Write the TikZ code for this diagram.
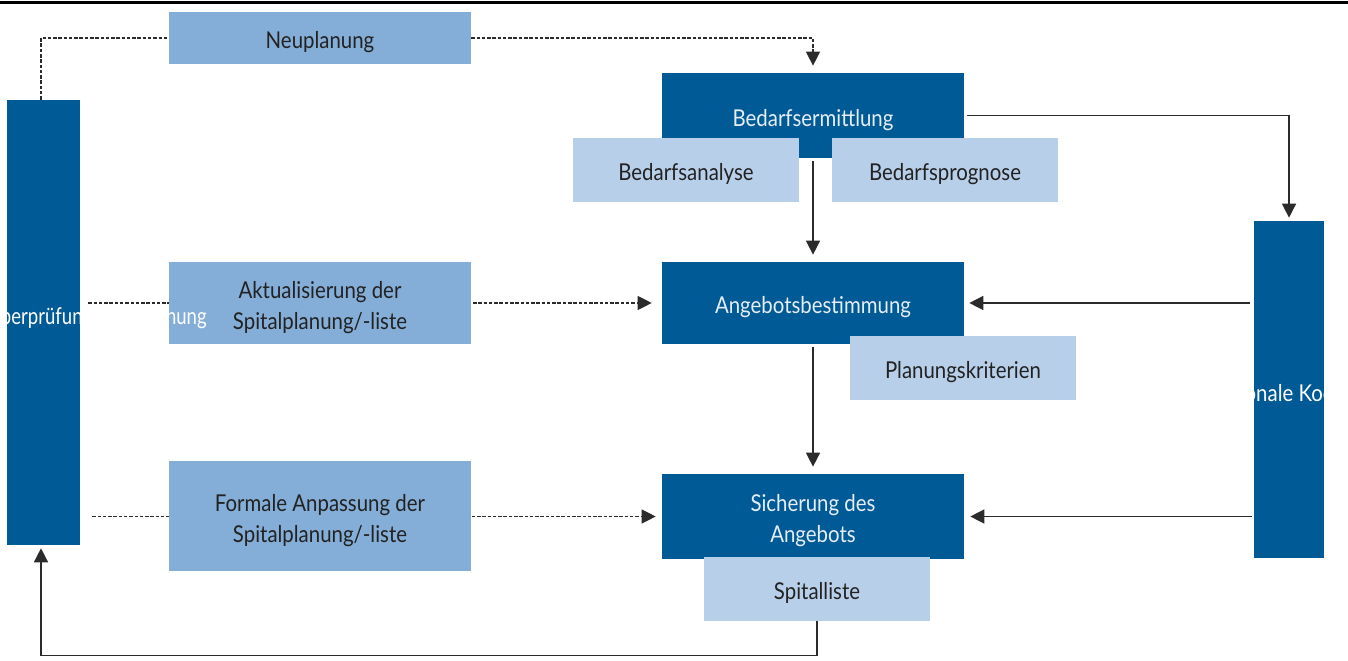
\documentclass[tikz,border=0pt]{standalone}
\usepackage{fontspec}
\setmainfont{Lato}[FakeStretch=0.88]
\newfontfamily\barfont{Lato}[FakeStretch=0.8]
\usepackage{tikz}
\usetikzlibrary{arrows.meta}
\definecolor{dblue}{HTML}{005A96}
\definecolor{mblue}{HTML}{84AED8}
\definecolor{lblue}{HTML}{B8CFEA}
\definecolor{txtdark}{HTML}{222222}
\definecolor{txtlight}{HTML}{E6EEF7}
\definecolor{linegrey}{HTML}{2B2B2B}
\newcommand{\boxfont}{\fontsize{13.2}{17.6}\selectfont}
\tikzset{
  dbox/.style={rectangle, fill=dblue, text=txtlight, inner sep=0pt, minimum width=6.04cm, align=center, font=\boxfont, text height=12.5pt, text depth=0pt},
  mbox/.style={rectangle, fill=mblue, text=txtdark, inner sep=0pt, minimum width=6.04cm, align=center, font=\boxfont, text height=12.5pt, text depth=0pt},
  lbox/.style={rectangle, fill=lblue, text=txtdark, inner sep=0pt, minimum width=4.52cm, minimum height=1.28cm, align=center, font=\boxfont, text height=12.5pt, text depth=0pt},
  twoline/.style={text height=29.8pt, text depth=0pt},
  bar/.style={rectangle, fill=dblue, inner sep=0pt},
  bartext/.style={text=white, inner sep=0pt, font=\boxfont},
  arr/.style={draw=linegrey, line width=0.8pt, -{Triangle[length=0.28cm, width=0.28cm]}},
  dline/.style={draw=linegrey, line width=0.7pt, dash pattern=on 2pt off 1pt}
}
\begin{document}
\begin{tikzpicture}[x=0.02cm, y=-0.02cm]
\useasboundingbox (0,0) rectangle (1348,661);
\draw[line width=0.06cm] (0,3) -- (1348,3);

\node[bar, minimum width=1.46cm, minimum height=8.9cm](L) at (43.5,322.5) {};
\node[bar, minimum width=1.4cm, minimum height=6.74cm](R) at (1289,389.5) {};

\node[dbox, minimum height=1.7cm](B1) at (813,115.5) {Bedarfsermittlung};
\node[dbox, minimum height=1.64cm](A1) at (813,303) {Angebotsbestimmung};
\node[dbox, twoline, minimum height=1.7cm](S1) at (813,516.5) {Sicherung des\\Angebots};

\draw[dline, -{Triangle[length=0.28cm, width=0.28cm]}, shorten <=0.16cm, shorten >=0.2cm] (L.east |- A1.west) -- (A1.west);
\draw[dline, -{Triangle[length=0.28cm, width=0.28cm]}, shorten <=0.24cm, shorten >=0.12cm] (L.east |- S1.west) -- (S1.west);

\node[mbox, minimum height=1.04cm](N1) at (320,38) {Neuplanung};
\node[mbox, twoline, minimum height=1.64cm](M1) at (320,303) {Aktualisierung der\\Spitalplanung/-liste};
\node[mbox, twoline, minimum height=2.2cm](M2) at (320,516) {Formale Anpassung der\\Spitalplanung/-liste};

\node[lbox](B2) at (686,170) {Bedarfsanalyse};
\node[lbox](B3) at (945,170) {Bedarfsprognose};
\node[lbox](A2) at (963,368) {Planungskriterien};
\node[lbox](S2) at (817,589) {Spitalliste};

\draw[dline]([xshift=-0.05cm]L.north) |- (N1.west);
\draw[dline, -{Triangle[length=0.28cm, width=0.28cm]}, shorten >=0.14cm](N1.east) -| (B1.north);
\draw[arr, shorten <=0.06cm, shorten >=0.14cm](B1.south) -- (A1.north);
\draw[arr, shorten <=0.06cm, shorten >=0.14cm](A1.south) -- (S1.north);
\draw[arr, shorten <=0.06cm, shorten >=0.06cm](B1.east) -| (R.north);
\draw[arr, shorten <=0.08cm, shorten >=0.1cm](R.west |- A1.east) -- (A1.east);
\draw[arr, shorten <=0.04cm, shorten >=0.12cm](R.west |- S1.east) -- (S1.east);
\draw[arr, shorten >=0.06cm](S2.south) -- ++(0,34) -| ([xshift=-0.05cm]L.south);

\node[bartext, font=\boxfont\barfont, anchor=base east](Ltext) at (207,325) {Überprüfung Spitalplanung};
\node[bartext, anchor=base](Rtext) at (1289,402) {Interkantonale Koordination};
\end{tikzpicture}
\end{document}
